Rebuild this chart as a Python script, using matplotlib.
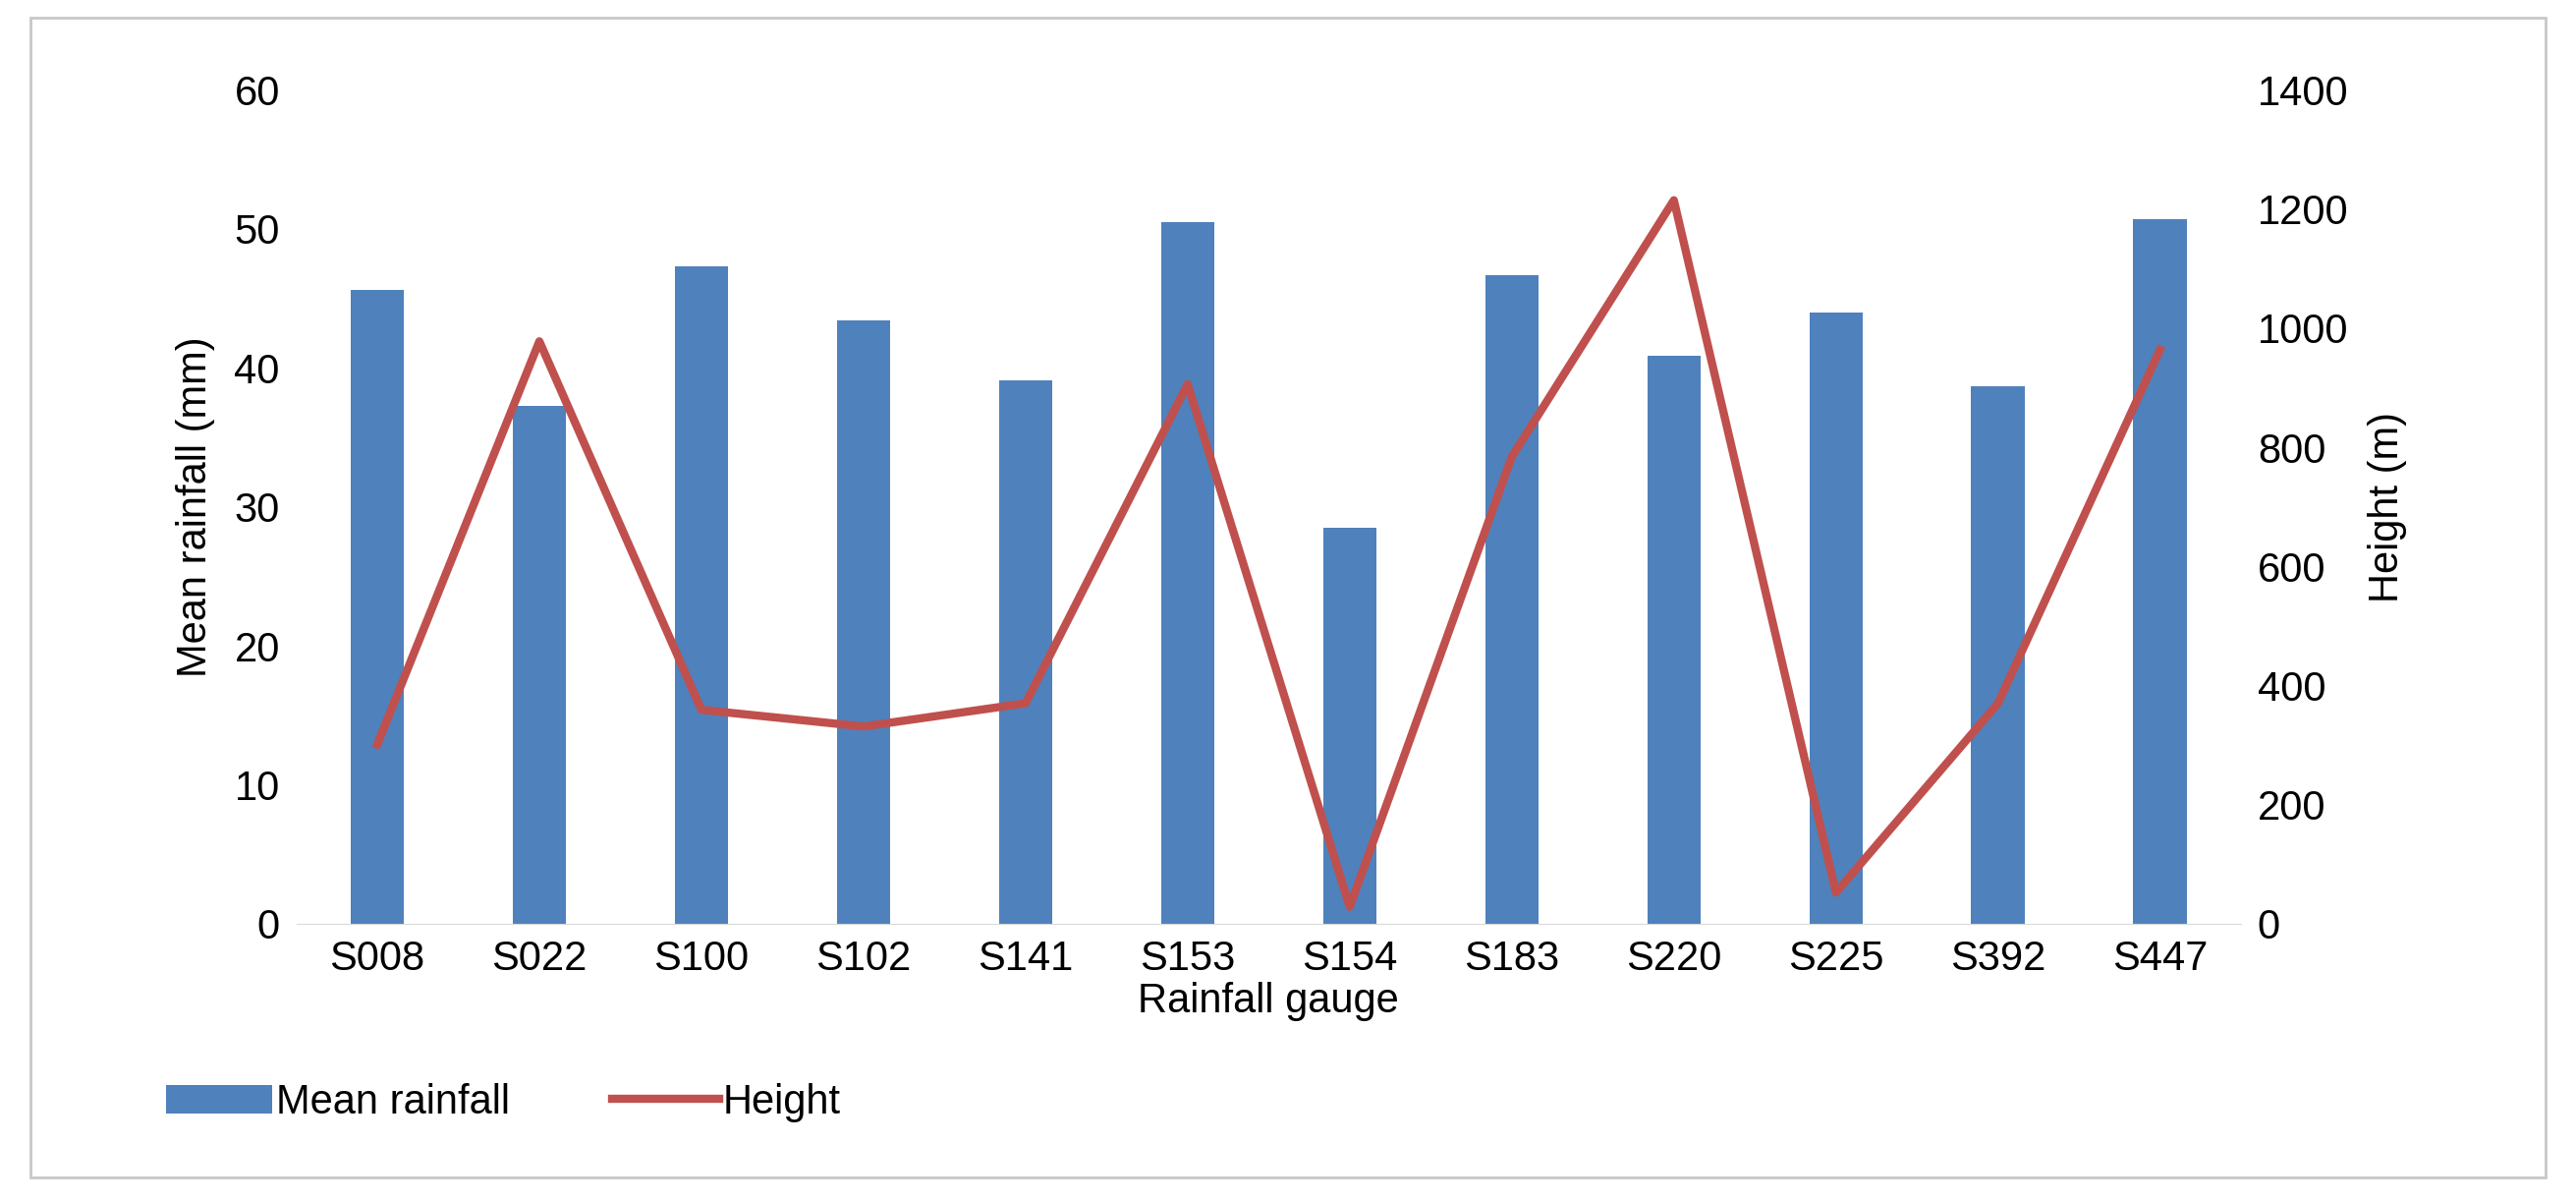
import matplotlib.pyplot as plt
from matplotlib.patches import Rectangle

plt.rcParams['font.family'] = ['Liberation Sans', 'DejaVu Sans']

gauges = ["S008", "S022", "S100", "S102", "S141", "S153", "S154", "S183", "S220", "S225", "S392", "S447"]
mean_rainfall = [45.6, 37.3, 47.3, 43.4, 39.1, 50.5, 28.5, 46.7, 40.9, 44.0, 38.7, 50.7]
height = [301, 978, 359, 331, 370, 906, 28, 784, 1215, 52, 370, 964]

fs = 30
fig = plt.figure(figsize=(26.22, 12.22), dpi=100)
fig.patches.append(Rectangle((0.012, 0.02), 0.976, 0.965, transform=fig.transFigure,
                             fill=False, edgecolor='#c8c8c8', linewidth=2))

ax = fig.add_axes([0.115, 0.231, 0.755, 0.694])
x = range(len(gauges))
ax.bar(x, mean_rainfall, width=0.33, color='#4f81bd', label='Mean rainfall')
ax.set_ylim(0, 60)
ax.set_xlim(-0.5, len(gauges) - 0.5)
ax.set_xticks(list(x))
ax.set_xticklabels(gauges)
ax.set_ylabel('Mean rainfall (mm)', fontsize=fs, labelpad=14)
ax.set_xlabel('Rainfall gauge', fontsize=fs, labelpad=2)
ax.tick_params(labelsize=fs, length=0, pad=12)
for s in ['top', 'right', 'left']:
    ax.spines[s].set_visible(False)
ax.spines['bottom'].set_color('#d9d9d9')

ax2 = ax.twinx()
ax2.plot(list(x), height, color='#c0504d', linewidth=6, label='Height')
ax2.set_ylim(0, 1400)
ax2.set_ylabel('Height (m)', fontsize=fs, labelpad=14)
ax2.tick_params(labelsize=fs, length=0, pad=12)
for s in ax2.spines.values():
    s.set_visible(False)

h1, l1 = ax.get_legend_handles_labels()
h2, l2 = ax2.get_legend_handles_labels()
fig.legend(h1 + h2, l1 + l2, loc='lower left', bbox_to_anchor=(0.05, 0.035), ncol=2,
           frameon=False, fontsize=fs, handlelength=2.6, handletextpad=0.1, columnspacing=2.5)

fig.savefig('out.png', dpi=100)
